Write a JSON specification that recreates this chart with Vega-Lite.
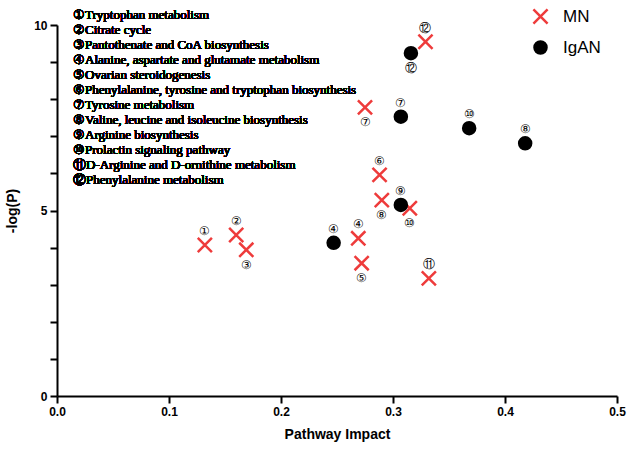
{
  "$schema": "https://vega.github.io/schema/vega-lite/v6.json",
  "width": 560,
  "height": 371,
  "autosize": {"type": "none"},
  "padding": {"left": 57, "top": 25, "right": 11, "bottom": 54},
  "background": "white",
  "config": {
    "view": {"stroke": null}
  },
  "data": {"values": [
    {"series": "MN", "num": 1, "label": "①", "impact": 0.132, "logp": 4.07},
    {"series": "MN", "num": 2, "label": "②", "impact": 0.160, "logp": 4.34},
    {"series": "MN", "num": 3, "label": "③", "impact": 0.169, "logp": 3.94},
    {"series": "MN", "num": 4, "label": "④", "impact": 0.269, "logp": 4.25},
    {"series": "MN", "num": 5, "label": "⑤", "impact": 0.272, "logp": 3.58},
    {"series": "MN", "num": 6, "label": "⑥", "impact": 0.288, "logp": 5.96},
    {"series": "MN", "num": 7, "label": "⑦", "impact": 0.275, "logp": 7.78},
    {"series": "MN", "num": 8, "label": "⑧", "impact": 0.290, "logp": 5.28},
    {"series": "MN", "num": 10, "label": "⑩", "impact": 0.315, "logp": 5.06},
    {"series": "MN", "num": 11, "label": "⑪", "impact": 0.332, "logp": 3.17},
    {"series": "MN", "num": 12, "label": "⑫", "impact": 0.329, "logp": 9.55},
    {"series": "IgAN", "num": 4, "label": "④", "impact": 0.247, "logp": 4.13},
    {"series": "IgAN", "num": 7, "label": "⑦", "impact": 0.307, "logp": 7.53},
    {"series": "IgAN", "num": 8, "label": "⑧", "impact": 0.418, "logp": 6.81},
    {"series": "IgAN", "num": 9, "label": "⑨", "impact": 0.307, "logp": 5.15},
    {"series": "IgAN", "num": 10, "label": "⑩", "impact": 0.368, "logp": 7.22},
    {"series": "IgAN", "num": 12, "label": "⑫", "impact": 0.316, "logp": 9.24}
  ]},
  "layer": [
    {
      "mark": {"type": "point", "filled": true, "size": 200, "strokeWidth": 2.5, "opacity": 1},
      "encoding": {
        "x": {"field": "impact", "type": "quantitative",
              "scale": {"domain": [0, 0.5], "nice": false, "zero": true},
              "axis": {"title": "Pathway Impact", "values": [0, 0.1, 0.2, 0.3, 0.4, 0.5], "format": ".1f",
                       "titlePadding": 10, "grid": false,
                       "domainColor": "black", "domainWidth": 2, "tickColor": "black", "tickWidth": 2, "tickSize": 7,
                       "labelFont": "Liberation Sans", "labelFontWeight": "bold", "labelFontSize": 12, "labelColor": "black",
                       "labelPadding": 3, "labelOverlap": false, "labelFlush": false,
                       "titleFont": "Liberation Sans", "titleFontWeight": "bold", "titleFontSize": 14, "titleColor": "black"}},
        "y": {"field": "logp", "type": "quantitative",
              "scale": {"domain": [0, 10], "nice": false},
              "axis": {"title": "-log(P)", "values": [0, 1, 2, 3, 4, 5, 6, 7, 8, 9, 10],
                       "labelExpr": "datum.value == 0 || datum.value == 5 || datum.value == 10 ? datum.label : ''",
                       "titlePadding": 14, "grid": false,
                       "domainColor": "black", "domainWidth": 2, "tickColor": "black", "tickWidth": 2, "tickSize": 7,
                       "labelFont": "Liberation Sans", "labelFontWeight": "bold", "labelFontSize": 12, "labelColor": "black",
                       "labelPadding": 3, "labelOverlap": false, "labelFlush": false,
                       "titleFont": "Liberation Sans", "titleFontWeight": "bold", "titleFontSize": 14, "titleColor": "black",
                       "encode": {"ticks": {"update": {"x2": {"signal": "datum.value % 5 === 0 ? -7 : -4"}}}}}},
        "color": {"field": "series", "type": "nominal",
                  "scale": {"domain": ["MN", "IgAN"], "range": ["#ee3b3b", "black"]},
                  "legend": {"title": null, "orient": "none", "legendX": 475, "legendY": -17,
                             "labelFont": "Liberation Sans", "labelFontSize": 17, "labelColor": "black",
                             "symbolSize": 200, "symbolStrokeWidth": 2.5, "rowPadding": 7, "labelOffset": 14, "padding": 0}},
        "stroke": {"field": "series", "type": "nominal",
                   "scale": {"domain": ["MN", "IgAN"], "range": ["#ee3b3b", "black"]},
                   "legend": {"title": null}},
        "shape": {"field": "series", "type": "nominal",
                  "scale": {"domain": ["MN", "IgAN"], "range": ["M-1,-1L1,1M1,-1L-1,1", "M-0.85,0A0.85,0.85,0,1,1,0.85,0A0.85,0.85,0,1,1,-0.85,0Z"]},
                  "legend": {"title": null}}
      }
    },
    {
      "transform": [{"filter": "indexof(['MN3','MN5','MN7','MN8','MN10','IgAN12'], datum.series + datum.num) < 0"}],
      "mark": {"type": "text", "dy": -14, "fontSize": 12, "font": "Liberation Serif", "fill": "black"},
      "encoding": {
        "x": {"field": "impact", "type": "quantitative", "axis": null},
        "y": {"field": "logp", "type": "quantitative", "axis": null},
        "text": {"field": "label"}
      }
    },
    {
      "transform": [{"filter": "indexof(['MN3','MN5','MN7','MN8','MN10','IgAN12'], datum.series + datum.num) >= 0"}],
      "mark": {"type": "text", "dy": 15, "fontSize": 12, "font": "Liberation Serif", "fill": "black"},
      "encoding": {
        "x": {"field": "impact", "type": "quantitative", "axis": null},
        "y": {"field": "logp", "type": "quantitative", "axis": null},
        "text": {"field": "label"}
      }
    },
    {
      "mark": {"type": "text", "align": "left", "baseline": "top", "fontSize": 13, "lineHeight": 15,
               "font": "Liberation Serif", "fill": "black",
               "text": ["①Tryptophan metabolism", "②Citrate cycle", "③Pantothenate and CoA biosynthesis",
                        "④Alanine, aspartate and glutamate metabolism", "⑤Ovarian steroidogenesis",
                        "⑥Phenylalanine, tyrosine and tryptophan biosynthesis", "⑦Tyrosine metabolism",
                        "⑧Valine, leucine and isoleucine biosynthesis", "⑨Arginine biosynthesis",
                        "⑩Prolactin signaling pathway", "⑪D-Arginine and D-ornithine metabolism",
                        "⑫Phenylalanine metabolism"]},
      "encoding": {
        "x": {"datum": 0.0143, "type": "quantitative", "axis": null},
        "y": {"datum": 10.43, "type": "quantitative", "axis": null}
      }
    }
  ],
  "resolve": {"axis": {"x": "independent", "y": "independent"}}
}
